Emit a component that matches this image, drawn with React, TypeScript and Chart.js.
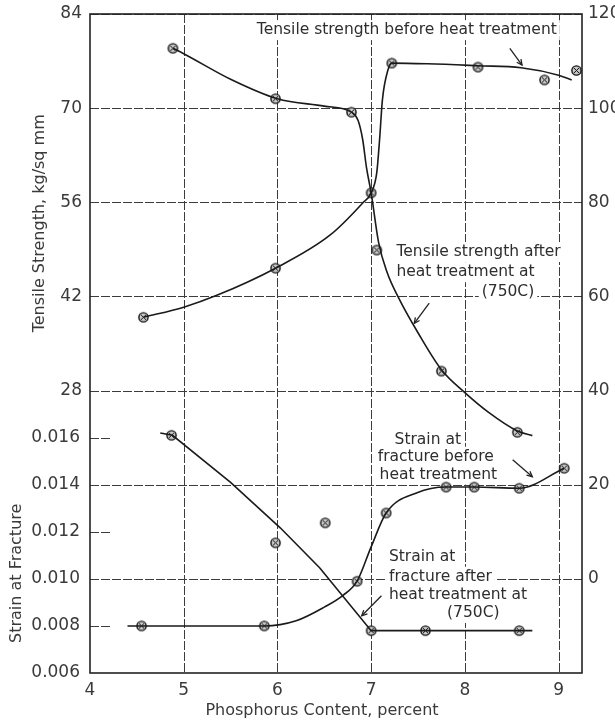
import React, { useEffect, useRef } from "react";
import { Chart, registerables } from "chart.js";

Chart.register(...registerables);

// ---- axis ticks ----
const xTicks = [4, 5, 6, 7, 8, 9];
const tensileTicks = [28, 42, 56, 70, 84];
const strainTicks = [0.006, 0.008, 0.01, 0.012, 0.014, 0.016];
const strainFullGrid = [0.014, 0.01];
const strainShortGrid = [0.016, 0.012, 0.008];
const rightTicks = [0, 20, 40, 60, 80, 100, 120];

// ---- tensile strength curves (kg/sq mm) ----
// upper-left branch crossing at 7% down into the lower-right branch
const tsCurve1X = [4.885, 5.0, 5.5, 6.0, 6.5, 6.79, 6.86, 6.91, 6.95, 7.0, 7.08, 7.17, 7.3, 7.5, 7.75, 8.0, 8.25, 8.56, 8.72];
const tsCurve1Y = [78.9, 78.1, 74.3, 71.4, 70.3, 69.4, 68.2, 65.3, 61.2, 57.4, 50.0, 45.6, 41.6, 36.6, 31.1, 27.7, 24.8, 22.0, 21.3];
// lower-left branch crossing at 7% up into the upper-right branch
const tsCurve2X = [4.57, 5.0, 5.36, 5.98, 6.56, 6.91, 7.0, 7.06, 7.09, 7.12, 7.18, 7.22, 7.6, 8.14, 8.6, 9.0, 9.14];
const tsCurve2Y = [38.9, 40.4, 42.2, 46.2, 51.1, 55.9, 57.4, 60.4, 65.3, 71.2, 75.7, 76.7, 76.6, 76.3, 76.0, 74.9, 74.2];
// measured points
const tsPointsX = [4.885, 5.98, 6.79, 7.0, 7.22, 8.14, 8.85, 9.19, 4.57, 5.98, 7.06, 7.75, 8.56];
const tsPointsY = [78.9, 71.4, 69.4, 57.4, 76.7, 76.1, 74.2, 75.6, 38.9, 46.2, 48.9, 30.9, 21.8];

// ---- strain at fracture ----
const sfBeforeX = [4.4, 4.55, 5.86, 6.2, 6.5, 6.7, 6.85, 7.0, 7.16, 7.49, 7.8, 8.1, 8.58, 9.06];
const sfBeforeY = [0.008, 0.008, 0.008, 0.00822, 0.0088, 0.0093, 0.0099, 0.01136, 0.0128, 0.01366, 0.0139, 0.0139, 0.01385, 0.0147];
const sfAfterX = [4.75, 4.88, 5.5, 6.03, 6.45, 7.0, 7.58, 8.58, 8.72];
const sfAfterY = [0.0162, 0.0161, 0.0141, 0.01217, 0.01047, 0.0078, 0.0078, 0.0078, 0.0078];
const sfPointsX = [4.55, 5.86, 6.85, 7.16, 7.8, 8.1, 8.58, 9.06, 4.87, 7.0, 7.58, 8.58, 5.98, 6.51];
const sfPointsY = [0.008, 0.008, 0.0099, 0.0128, 0.0139, 0.0139, 0.01385, 0.0147, 0.0161, 0.0078, 0.0078, 0.0078, 0.01153, 0.01238];

// ---- annotation text ----
const tensileLabels = [
  { text: "Tensile strength before heat treatment", x: 5.78, y: 81.6 },
  { text: "Tensile strength after", x: 7.27, y: 48.6 },
  { text: "heat treatment at", x: 7.27, y: 45.6 },
  { text: "(750C)", x: 8.18, y: 42.7 },
];
const strainLabels = [
  { text: "Strain at", x: 7.25, y: 0.01591 },
  { text: "fracture before", x: 7.07, y: 0.01519 },
  { text: "heat treatment", x: 7.09, y: 0.01443 },
  { text: "Strain at", x: 7.19, y: 0.01094 },
  { text: "fracture after", x: 7.19, y: 0.01009 },
  { text: "heat treatment at", x: 7.19, y: 0.00932 },
  { text: "(750C)", x: 7.81, y: 0.00855 },
];
const tensileArrows = [
  { x1: 8.48, y1: 78.9, x2: 8.61, y2: 76.4 },
  { x1: 7.62, y1: 41.0, x2: 7.46, y2: 38.0 },
];
const strainArrows = [
  { x1: 8.51, y1: 0.01506, x2: 8.72, y2: 0.01434 },
  { x1: 7.11, y1: 0.00928, x2: 6.9, y2: 0.00843 },
];

const FONT = "DejaVu Sans";
const INK = "#2e2e2e";
const TICK_INK = "#3a3a3a";

function pts(xs: number[], ys: number[]) {
  return xs.map((x, i) => ({ x, y: ys[i] }));
}

function makeMarker() {
  const c = document.createElement("canvas");
  c.width = 13;
  c.height = 13;
  const g = c.getContext("2d")!;
  g.beginPath();
  g.arc(6.5, 6.5, 4.6, 0, Math.PI * 2);
  g.fillStyle = "#c8c8c8";
  g.fill();
  g.lineWidth = 1.4;
  g.strokeStyle = "#111";
  g.stroke();
  g.lineWidth = 1;
  g.beginPath();
  g.moveTo(4, 4);
  g.lineTo(9, 9);
  g.moveTo(9, 4);
  g.lineTo(4, 9);
  g.stroke();
  return c;
}

const LABEL_FONT = `15.5px "${FONT}"`;
const TICK_FONT = `17px "${FONT}"`;

export default function App() {
  const ref = useRef<HTMLCanvasElement>(null);

  useEffect(() => {
    const canvas = ref.current!;
    const marker = makeMarker();

    const setTicks = (vals: number[]) => (s: any) => {
      s.ticks = vals.map((v) => ({ value: v }));
    };
    const fitWidth = (w: number) => (s: any) => {
      s.width = w;
      s.paddingTop = 0;
      s.paddingBottom = 0;
    };

    const labelBoxes = (chart: any) => {
      const { ctx, scales } = chart;
      const out: any[] = [];
      ctx.font = LABEL_FONT;
      tensileLabels.forEach((l) => {
        out.push({ t: l.text, px: scales.x.getPixelForValue(l.x), py: scales.y.getPixelForValue(l.y), w: ctx.measureText(l.text).width });
      });
      strainLabels.forEach((l) => {
        out.push({ t: l.text, px: scales.x.getPixelForValue(l.x), py: scales.yS.getPixelForValue(l.y), w: ctx.measureText(l.text).width });
      });
      return out;
    };

    const overlay = {
      id: "overlay",
      beforeDatasetsDraw(chart: any) {
        const { ctx, chartArea: a, scales } = chart;
        const sx = scales.x, sy = scales.y, ss = scales.yS;
        ctx.save();
        ctx.strokeStyle = "#3c3c3c";
        ctx.lineWidth = 1;
        ctx.setLineDash([9, 2]);
        const line = (x1: number, y1: number, x2: number, y2: number) => {
          ctx.beginPath();
          ctx.moveTo(x1, y1);
          ctx.lineTo(x2, y2);
          ctx.stroke();
        };
        xTicks.forEach((v) => {
          if (v === sx.min) return;
          const p = Math.round(sx.getPixelForValue(v)) + 0.5;
          line(p, a.top, p, a.bottom);
        });
        tensileTicks.forEach((v) => {
          const p = Math.round(sy.getPixelForValue(v)) + 0.5;
          line(a.left, p, a.right, p);
        });
        strainFullGrid.forEach((v) => {
          const p = Math.round(ss.getPixelForValue(v)) + 0.5;
          line(a.left, p, a.right, p);
        });
        strainShortGrid.forEach((v) => {
          const p = Math.round(ss.getPixelForValue(v)) + 0.5;
          line(a.left, p, a.left + 22, p);
        });
        ctx.setLineDash([]);
        ctx.lineWidth = 1.6;
        ctx.strokeStyle = "#222";
        ctx.strokeRect(a.left, a.top, a.right - a.left, a.bottom - a.top);
        // white backing behind annotation text
        ctx.fillStyle = "#fff";
        labelBoxes(chart).forEach((b) => {
          ctx.fillRect(b.px - 3, b.py - 10, b.w + 6, 20);
        });
        // strain tick labels on the left (shares the left edge with the tensile axis)
        ctx.fillStyle = TICK_INK;
        ctx.font = TICK_FONT;
        ctx.textAlign = "right";
        ctx.textBaseline = "middle";
        strainTicks.forEach((v) => {
          ctx.fillText(v.toFixed(3), a.left - 10, ss.getPixelForValue(v));
        });
        ctx.restore();
      },
      afterDatasetsDraw(chart: any) {
        const { ctx, chartArea: a, scales } = chart;
        ctx.save();
        ctx.fillStyle = INK;
        ctx.font = LABEL_FONT;
        ctx.textAlign = "left";
        ctx.textBaseline = "middle";
        labelBoxes(chart).forEach((b) => ctx.fillText(b.t, b.px, b.py));

        const arrow = (x1: number, y1: number, x2: number, y2: number) => {
          ctx.strokeStyle = "#222";
          ctx.lineWidth = 1.3;
          ctx.beginPath();
          ctx.moveTo(x1, y1);
          ctx.lineTo(x2, y2);
          ctx.stroke();
          const ang = Math.atan2(y2 - y1, x2 - x1);
          const h = 6;
          ctx.beginPath();
          ctx.moveTo(x2 - h * Math.cos(ang - 0.45), y2 - h * Math.sin(ang - 0.45));
          ctx.lineTo(x2, y2);
          ctx.lineTo(x2 - h * Math.cos(ang + 0.45), y2 - h * Math.sin(ang + 0.45));
          ctx.stroke();
        };
        tensileArrows.forEach((r) =>
          arrow(scales.x.getPixelForValue(r.x1), scales.y.getPixelForValue(r.y1), scales.x.getPixelForValue(r.x2), scales.y.getPixelForValue(r.y2))
        );
        strainArrows.forEach((r) =>
          arrow(scales.x.getPixelForValue(r.x1), scales.yS.getPixelForValue(r.y1), scales.x.getPixelForValue(r.x2), scales.yS.getPixelForValue(r.y2))
        );

        // axis titles
        ctx.font = `16px "${FONT}"`;
        ctx.textAlign = "center";
        ctx.textBaseline = "middle";
        ctx.fillStyle = TICK_INK;
        ctx.fillText("Phosphorus Content, percent", (a.left + a.right) / 2 - 14, 711);
        const tTop = scales.y.getPixelForValue(84);
        const tBot = scales.y.getPixelForValue(28);
        ctx.save();
        ctx.translate(40, (tTop + tBot) / 2 + 21);
        ctx.rotate(-Math.PI / 2);
        ctx.fillText("Tensile Strength, kg/sq mm", 0, 0);
        ctx.restore();
        ctx.save();
        ctx.translate(17, (scales.yS.getPixelForValue(0.006) + scales.yS.getPixelForValue(0.016)) / 2 + 18);
        ctx.rotate(-Math.PI / 2);
        ctx.fillText("Strain at Fracture", 0, 0);
        ctx.restore();
        ctx.restore();
      },
    };

    const tickFont = { family: FONT, size: 17 };
    const curve = (xs: number[], ys: number[], axis: string, tension = 0.4, mode = "monotone") => ({
      type: "line",
      data: pts(xs, ys),
      yAxisID: axis,
      borderColor: "#1a1a1a",
      borderWidth: 1.6,
      pointRadius: 0,
      fill: false,
      tension,
      cubicInterpolationMode: mode,
    });
    const points = (xs: number[], ys: number[], axis: string) => ({
      type: "scatter",
      data: pts(xs, ys),
      yAxisID: axis,
      showLine: false,
      pointStyle: marker,
      pointRadius: 6,
    });

    const chart = new Chart(canvas, {
      type: "line",
      data: {
        datasets: [
          curve(tsCurve1X, tsCurve1Y, "y"),
          curve(tsCurve2X, tsCurve2Y, "y"),
          curve(sfBeforeX, sfBeforeY, "yS"),
          curve(sfAfterX, sfAfterY, "yS", 0, "default"),
          points(tsPointsX, tsPointsY, "y"),
          points(sfPointsX, sfPointsY, "yS"),
        ] as any,
      },
      options: {
        responsive: false,
        animation: false,
        layout: { padding: { top: 14, left: 0, right: 0, bottom: 0 } },
        plugins: { legend: { display: false }, tooltip: { enabled: false } },
        scales: {
          x: {
            type: "linear",
            min: 4,
            max: 9.25,
            afterBuildTicks: setTicks(xTicks),
            afterFit: (s: any) => { s.height = 51; s.paddingLeft = 0; s.paddingRight = 0; },
            grid: { display: false, drawTicks: false },
            border: { display: false },
            ticks: { font: tickFont, color: TICK_INK, padding: 7, maxRotation: 0, autoSkip: false, callback: (v: any) => String(v) },
          },
          y: {
            type: "linear",
            position: "left",
            weight: 1,
            min: -14,
            max: 84,
            afterBuildTicks: setTicks(tensileTicks),
            afterFit: fitWidth(90),
            grid: { display: false, drawTicks: false },
            border: { display: false },
            ticks: { font: tickFont, color: TICK_INK, padding: 8, autoSkip: false, callback: (v: any) => String(v) },
          },
          yS: {
            type: "linear",
            position: "left",
            weight: 0,
            min: 0.006,
            max: 0.034,
            afterBuildTicks: setTicks(strainTicks),
            afterFit: fitWidth(0),
            grid: { display: false, drawTicks: false },
            border: { display: false },
            ticks: { display: false },
          },
          yR: {
            type: "linear",
            position: "right",
            min: -20,
            max: 120,
            afterBuildTicks: setTicks(rightTicks),
            afterFit: fitWidth(33),
            grid: { display: false, drawTicks: false },
            border: { display: false },
            ticks: { font: tickFont, color: TICK_INK, padding: 6, autoSkip: false, callback: (v: any) => String(v) },
          },
        },
      } as any,
      plugins: [overlay],
    });
    return () => chart.destroy();
  }, []);

  return (
    <div style={{ position: "fixed", left: 0, top: 0, width: 615, height: 724, background: "#fff" }}>
      <canvas ref={ref} width={615} height={724} style={{ display: "block" }} />
    </div>
  );
}
